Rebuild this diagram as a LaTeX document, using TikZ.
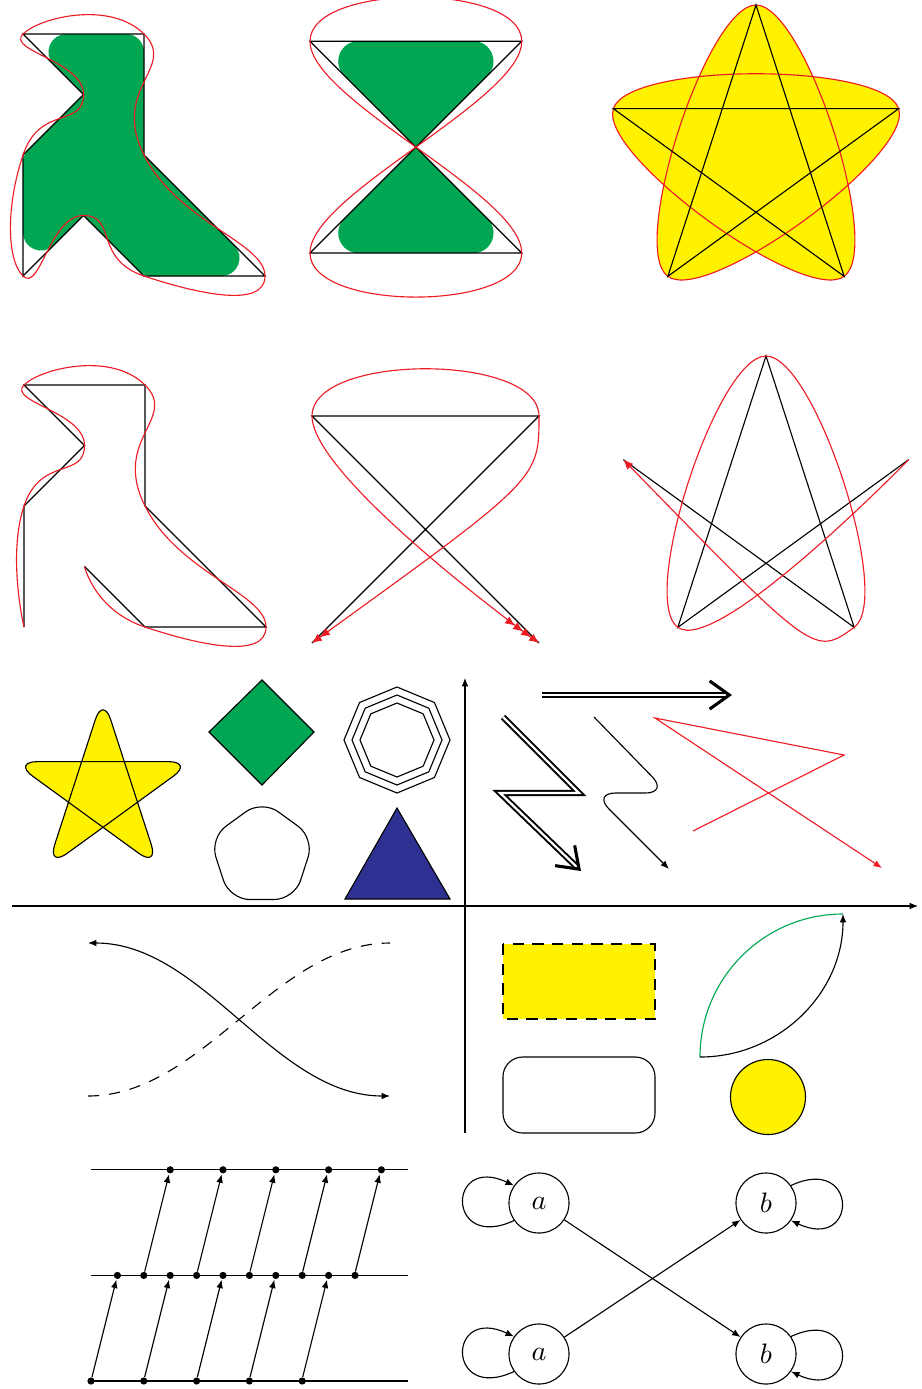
\documentclass[tikz,border=0pt]{standalone}
\usetikzlibrary{arrows.meta}
\definecolor{cgreen}{RGB}{0,166,81}
\definecolor{cyellow}{RGB}{255,242,0}
\definecolor{cblue}{RGB}{46,49,146}
\definecolor{cred}{RGB}{237,28,36}
\tikzset{lt/.tip={Latex[length=3.5pt,width=3pt]}}
\begin{document}
\begin{tikzpicture}[x=0.0125cm, y=0.0125cm,
  >={Latex[length=3pt,width=2.4pt]},
  tension=1,
  dot/.style={circle, fill, inner sep=0pt, minimum size=0.9mm},
  vert/.style={circle, draw, minimum size=0.75cm},
  dbl/.style={double, line width=0.7pt, double distance=0.8pt},
  barb/.style={-{Straight Barb[length=7pt,width=10pt,line width=1.1pt]}},
  redline/.style={draw=cred}
]
\useasboundingbox (0,0) rectangle (922,-1389);

\begin{scope}[shift={(23,-276)}, scale=60.5]
\filldraw[cgreen, line width=0.45cm, line join=round] (0.7183,3.7025) -- (1.7025,3.7025) -- (1.7025,1.8767) -- (3.2817,0.2975) -- (2.1233,0.2975) -- (1,1.4208) -- (0.2975,0.7183) -- (0.2975,1.8767) -- (1.4208,3) -- cycle;
\draw (0,4) -- (2,4) -- (2,2) -- (4,0) -- (2,0) -- (1,1) -- (0,0) -- (0,2) -- (1,3) -- cycle;
\draw[redline] plot[smooth cycle] coordinates {(0,4) (2,4) (2,2) (4,0) (2,0) (1,1) (0,0) (0,2) (1,3)};
\end{scope}

\begin{scope}[shift={(310,-253)}, scale=60.5]
\filldraw[cgreen, line width=0.5cm, line join=round] (0.7981,3.1694) -- (2.7019,3.1694) -- (1.75,2.2175) -- cycle (0.7981,0.3306) -- (2.7019,0.3306) -- (1.75,1.2825) -- cycle;
\fill[cgreen] (1.75,1.75) -- (1.3,2.2) -- (2.2,2.2) -- cycle (1.75,1.75) -- (1.3,1.3) -- (2.2,1.3) -- cycle;
\draw (0,3.5) -- (3.5,3.5) -- (0,0) -- (3.5,0) -- cycle;
\draw[redline] plot[smooth cycle] coordinates {(0,3.5) (3.5,3.5) (0,0) (3.5,0)};
\end{scope}

\begin{scope}[shift={(756,-155)}]
\filldraw[fill=cyellow, draw=cred] plot[smooth cycle] coordinates {(90:150) (234:150) (18:150) (162:150) (306:150)};
\draw (90:150) -- (234:150) -- (18:150) -- (162:150) -- (306:150) -- cycle;
\end{scope}

\begin{scope}[shift={(24,-627)}, scale=60.5]
\draw (0,0) -- (0,2) -- (1,3) -- (0,4) -- (2,4) -- (2,2) -- (4,0) -- (2,0) -- (1,1);
\draw[redline] plot[smooth] coordinates {(0,0) (0,2) (1,3) (0,4) (2,4) (2,2) (4,0) (2,0) (1,1)};
\end{scope}

\draw (312,-643) -- (539,-416) -- (312,-416) -- (539,-643);
\draw[redline, {lt[]lt[]}-{lt[]lt[]lt[]lt[]}] plot[smooth] coordinates {(312,-643) (539,-416) (312,-416) (539,-643)};

\begin{scope}[shift={(766,-506)}]
\draw (162:150) -- (306:150) -- (90:150) -- (234:150) -- (18:150);
\draw[redline, {lt[]}-] plot[smooth] coordinates {(162:150) (306:150) (90:150) (234:150) (18:150)};
\end{scope}

\begin{scope}[shift={(103,-791)}]
\filldraw[fill=cyellow, rounded corners=0.31cm] (90:95) -- (234:95) -- (18:95) -- (162:95) -- (306:95) -- cycle;
\end{scope}
\filldraw[fill=cgreen] (262,-680) -- (314,-732) -- (262,-785) -- (209,-732) -- cycle;
\begin{scope}[shift={(397,-740)}]
\foreach \rad in {37,45,53}
  \draw (0:\rad) -- (45:\rad) -- (90:\rad) -- (135:\rad) -- (180:\rad) -- (225:\rad) -- (270:\rad) -- (315:\rad) -- cycle;
\end{scope}
\begin{scope}[shift={(262,-855)}]
\draw[rounded corners=0.25cm] (90:55) -- (162:55) -- (234:55) -- (306:55) -- (18:55) -- cycle;
\end{scope}
\filldraw[fill=cblue] (397,-808) -- (450,-899) -- (345,-899) -- cycle;

\coordinate (xl) at (12,-906);
\coordinate (xr) at (918,-906);
\coordinate (yb) at (465,-1133);
\coordinate (yt) at (465,-678);
\draw[->] (xl) -- (xr);
\draw[->] (yb) -- (yt);

\draw[dbl, barb] (542,-695) -- (732,-695);
\draw[dbl, barb] (503,-717) -- (579,-793) -- (500,-793) -- (581,-871);
\draw[->, rounded corners=8pt] (594,-717) -- (668,-793) -- (593,-793) -- (669,-869);
\draw[redline, ->] (693,-831) -- (844,-755) -- (655,-718) -- (882,-868);

\draw[<->] (88,-943) .. controls (203,-943) and (275,-1096) .. (390,-1096);
\draw[dash pattern=on 4pt off 3.5pt] (88,-1096) .. controls (203,-1096) and (275,-943) .. (390,-943);
\filldraw[fill=cyellow, dash pattern=on 4pt off 3pt] (503,-944) rectangle (655,-1019);
\draw[rounded corners=7pt] (503,-1057) rectangle (655,-1133);
\draw[cgreen] (700,-1057) .. controls (700,-978) and (764,-914) .. (843,-914);
\draw[->] (700,-1057) .. controls (779,-1057) and (843,-993) .. (843,-914);
\filldraw[fill=cyellow] (768,-1097) circle (37.5);

\begin{scope}[shift={(91,-1381)}, scale=26.4]
\foreach \y in {0,4,8} \draw (0,\y) -- (12,\y);
\foreach \i in {0,2,...,8} \node[dot] (b\i) at (\i,0) {};
\foreach \i in {1,...,10} \node[dot] (m\i) at (\i,4) {};
\foreach \i in {3,5,...,11} \node[dot] (t\i) at (\i,8) {};
\foreach \i/\j in {0/1,2/3,4/5,6/7,8/9} \draw[->] (b\i) -- (m\j);
\foreach \i/\j in {2/3,4/5,6/7,8/9,10/11} \draw[->] (m\i) -- (t\j);
\end{scope}

\node[vert] (a1) at (539,-1203) {$a$};
\node[vert] (b1) at (766,-1203) {$b$};
\node[vert] (a2) at (539,-1354) {$a$};
\node[vert] (b2) at (766,-1354) {$b$};
\draw[->] (a1) -- (b2);
\draw[->] (a2) -- (b1);
\draw[->] (a1.215) to[out=205, in=155, distance=0.93cm] (a1.145);
\draw[->] (a2.215) to[out=205, in=155, distance=0.93cm] (a2.145);
\draw[->] (b1.35) to[out=25, in=-25, distance=0.93cm] (b1.-35);
\draw[->] (b2.35) to[out=25, in=-25, distance=0.93cm] (b2.-35);

\end{tikzpicture}
\end{document}
